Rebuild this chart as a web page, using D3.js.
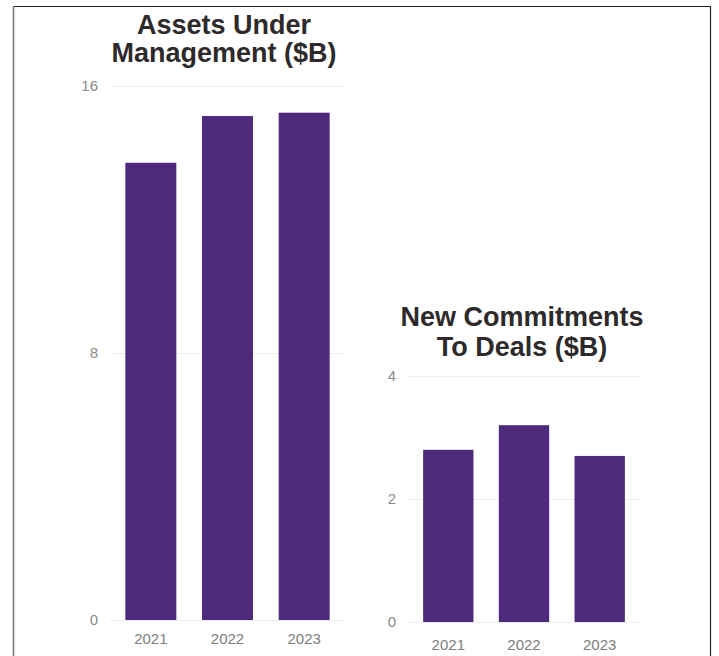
<!DOCTYPE html>
<html>
<head>
<meta charset="utf-8">
<script src="https://cdn.jsdelivr.net/npm/d3@7"></script>
<style>
  html, body { margin: 0; padding: 0; background: #ffffff; }
  svg { display: block; }
  text { font-family: "Liberation Sans", Arial, Helvetica, sans-serif; }
</style>
</head>
<body>
<svg id="chart" width="719" height="656"></svg>
<script>
// Years shared by both panels
const years = ["2021", "2022", "2023"];

// Assets under management, $B
const aumValues = [13.7, 15.1, 15.2];
const aumTicks = [0, 8, 16];
const aumTitle = ["Assets Under", "Management ($B)"];

// New commitments to deals, $B
const commitValues = [2.8, 3.2, 2.7];
const commitTicks = [0, 2, 4];
const commitTitle = ["New Commitments", "To Deals ($B)"];

const barColor = "#4d2a7c";
const gridColor = "#ececec";
const tickColor = "#8a8a8a";
const titleColor = "#2e2a2b";

const svg = d3.select("#chart");

// Outer frame
svg.append("line").attr("x1", 13).attr("x2", 711).attr("y1", 6.5).attr("y2", 6.5)
  .attr("stroke", "#222").attr("stroke-width", 1.2);
svg.append("line").attr("x1", 13.5).attr("x2", 13.5).attr("y1", 6).attr("y2", 656)
  .attr("stroke", "#7a7a7a").attr("stroke-width", 1.6);
svg.append("line").attr("x1", 710.5).attr("x2", 710.5).attr("y1", 6).attr("y2", 656)
  .attr("stroke", "#222").attr("stroke-width", 1.2);

function panel(cfg) {
  const g = svg.append("g");

  const x = d3.scaleBand()
    .domain(years)
    .range([cfg.left, cfg.right])
    .paddingInner(0.335)
    .paddingOuter(0.2);

  const y = d3.scaleLinear()
    .domain([0, cfg.max])
    .range([cfg.bottom, cfg.top]);

  // Gridlines and value labels
  const yAxis = d3.axisLeft(y)
    .tickValues(cfg.ticks)
    .tickSizeInner(-(cfg.right - cfg.left))
    .tickSizeOuter(0)
    .tickPadding(12)
    .tickFormat(d3.format("d"));

  const ya = g.append("g")
    .attr("transform", `translate(${cfg.left},0)`)
    .call(yAxis);
  ya.select(".domain").remove();
  ya.selectAll(".tick line").attr("stroke", gridColor).attr("stroke-width", 1.2);
  ya.selectAll(".tick text")
    .attr("fill", tickColor)
    .style("font-size", "15px");

  // Bars
  g.selectAll("rect.bar")
    .data(cfg.values)
    .join("rect")
    .attr("class", "bar")
    .attr("x", (d, i) => x(years[i]))
    .attr("width", x.bandwidth())
    .attr("y", d => y(d))
    .attr("height", d => y(0) - y(d))
    .attr("fill", barColor);

  // Year labels
  const xAxis = d3.axisBottom(x)
    .tickSize(0)
    .tickPadding(cfg.yearPad);
  const xa = g.append("g")
    .attr("transform", `translate(0,${cfg.bottom})`)
    .call(xAxis);
  xa.select(".domain").remove();
  xa.selectAll(".tick text")
    .attr("fill", "#7d7d7d")
    .style("font-size", "15px");

  // Title
  const t = g.append("text")
    .attr("text-anchor", "middle")
    .attr("fill", titleColor)
    .style("font-size", "27px")
    .style("font-weight", "bold");
  cfg.title.forEach((line, i) => {
    t.append("tspan")
      .attr("x", cfg.titleX)
      .attr("y", cfg.titleY + i * cfg.titleLead)
      .text(line);
  });
}

panel({
  values: aumValues, ticks: aumTicks, max: 16, title: aumTitle,
  left: 110, right: 345, top: 86, bottom: 620,
  yearPad: 13, titleX: 224, titleY: 34, titleLead: 28
});

panel({
  values: commitValues, ticks: commitTicks, max: 4, title: commitTitle,
  left: 408, right: 640, top: 376, bottom: 622,
  yearPad: 17, titleX: 522, titleY: 326, titleLead: 30
});
</script>
</body>
</html>
